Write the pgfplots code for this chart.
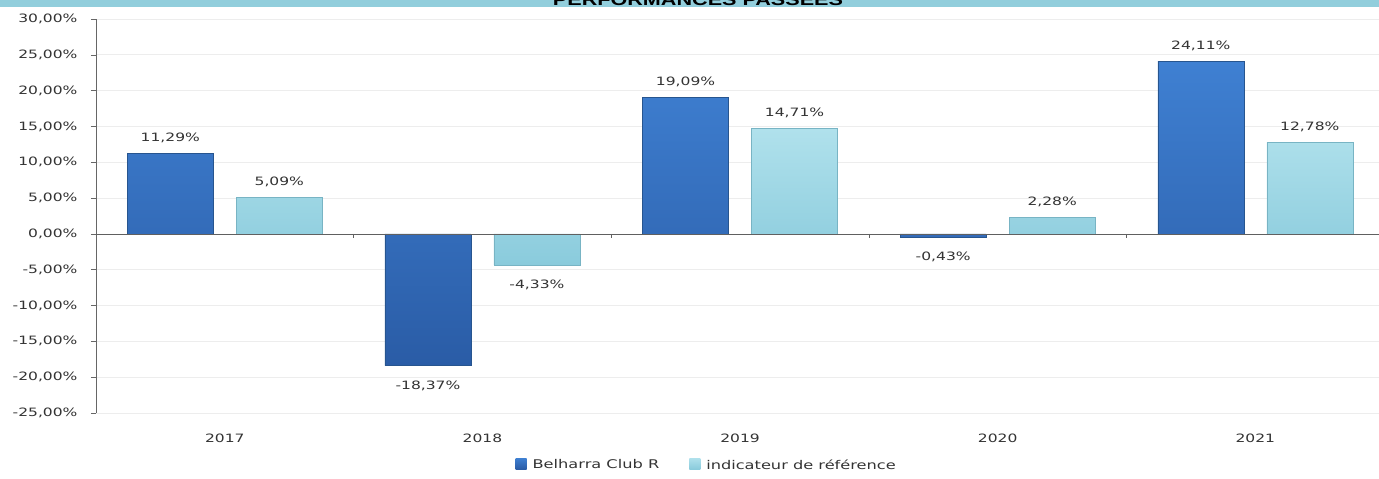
\documentclass[border=0pt]{standalone}
\usepackage{pgfplots}
\pgfplotsset{compat=1.18}
\usepackage{fontspec}
\setmainfont{DejaVu Sans}[FakeStretch=1.35]
\newfontfamily\titlefont{Liberation Sans}[FakeStretch=1.35]
\definecolor{bluetop}{HTML}{3F80D2}
\definecolor{bluebot}{HTML}{2A5CA6}
\definecolor{blueedge}{HTML}{27558F}
\definecolor{lbtop}{HTML}{B0E1EC}
\definecolor{lbbot}{HTML}{8ACBDC}
\definecolor{lbedge}{HTML}{78B4C4}
\definecolor{banner}{HTML}{92CEDC}
\definecolor{txt}{HTML}{333333}
\begin{document}
\begin{tikzpicture}
\begin{axis}[
  at={(0,0)}, anchor=south west, scale only axis,
  width=1283pt, height=394pt,
  xmin=-0.5, xmax=4.48, ymin=-25, ymax=30,
  ybar=23pt, bar width=86pt,
  xtick={0,1,2,3,4}, xticklabels={2017,2018,2019,2020,2021},
  ytick={-25,-20,-15,-10,-5,0,5,10,15,20,25,30},
  axis y line*=left, axis x line*=bottom,
  x axis line style={draw=none},
  y axis line style={draw=gray!80!black, line width=0.8pt},
  xtick style={draw=none},
  ytick style={draw=gray!80!black, line width=0.6pt},
  tick align=outside, major tick length=5pt,
  ymajorgrids, grid style={draw=gray!14, line width=0.8pt},
  /pgf/number format/assume math mode=true,
  yticklabel={\pgfmathprintnumber[fixed,fixed zerofill,precision=2,use comma]{\tick}\%},
  yticklabel style={font=\fontsize{11.5}{13}\selectfont, text=txt, xshift=-10pt},
  xticklabel style={font=\fontsize{11.5}{13}\selectfont, text=txt, yshift=-12pt},
  nodes near coords={\pgfmathprintnumber[fixed,fixed zerofill,precision=2,use comma]{\pgfplotspointmeta}\%},
  nodes near coords align={vertical},
  every node near coord/.append style={font=\fontsize{11.5}{13}\selectfont, text=txt, inner ysep=10pt},
  coordinate style/.condition={y<0}{yshift=-5pt},
  legend style={draw=none, fill=none, at={(0.476,-0.132)}, anchor=center,
    legend columns=2, font=\fontsize{12}{14}\selectfont, text=txt,
    /tikz/every even column/.append style={column sep=28pt}},
  legend image code/.code={\path[draw=none,fill=none,shade=none] (-4pt,0pt) -- (11pt,0pt);\path[#1, draw=none] (-4pt,-4pt) rectangle (7pt,7pt);},
  clip=false,
]
\addplot[draw=blueedge, top color=bluetop, bottom color=bluebot, line width=0.5pt]
  coordinates {(0,11.29) (1,-18.37) (2,19.09) (3,-0.43) (4,24.11)};
\addplot[draw=lbedge, top color=lbtop, bottom color=lbbot, line width=0.5pt]
  coordinates {(0,5.09) (1,-4.33) (2,14.71) (3,2.28) (4,12.78)};
\legend{Belharra Club R, indicateur de référence}
\draw[gray!75!black, line width=0.7pt] (axis cs:-0.5,0) -- (axis cs:4.48,0);
\draw[gray!75!black, line width=0.6pt] (axis cs:0.5,0) -- ([yshift=-4pt]axis cs:0.5,0);
\draw[gray!75!black, line width=0.6pt] (axis cs:1.5,0) -- ([yshift=-4pt]axis cs:1.5,0);
\draw[gray!75!black, line width=0.6pt] (axis cs:2.5,0) -- ([yshift=-4pt]axis cs:2.5,0);
\draw[gray!75!black, line width=0.6pt] (axis cs:3.5,0) -- ([yshift=-4pt]axis cs:3.5,0);
\end{axis}
\fill[banner] (-96pt,406pt) rectangle (1283pt,413pt);
\node[anchor=base, inner sep=0pt, font=\titlefont\bfseries\fontsize{16}{18}\selectfont] at (602pt,407.5pt) {PERFORMANCES PASSÉES};
\pgfresetboundingbox
\path[use as bounding box] (-96pt,-66pt) rectangle (1283pt,413pt);
\end{tikzpicture}
\end{document}
